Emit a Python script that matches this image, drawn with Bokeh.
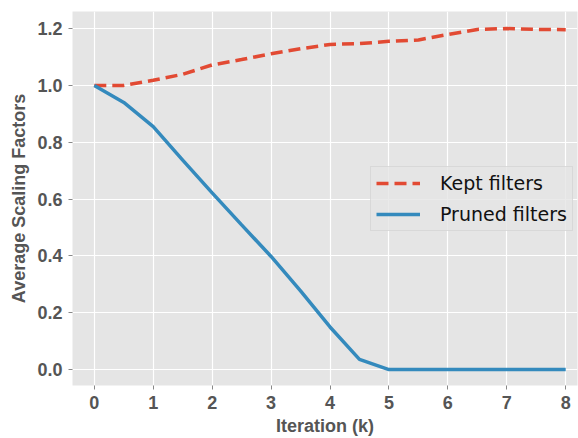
from bokeh.plotting import figure
from bokeh.models import Range1d, FixedTicker, PrintfTickFormatter
from bokeh.embed import file_html
from bokeh.resources import INLINE

iterations = [0, 0.5, 1, 1.5, 2, 2.5, 3, 3.5, 4, 4.5, 5, 5.5, 6, 6.5, 7, 7.5, 8]
kept = [1.0, 1.0, 1.018, 1.039, 1.072, 1.091, 1.111, 1.129, 1.144, 1.147, 1.155, 1.16, 1.179, 1.197, 1.2, 1.197, 1.196]
pruned = [1.0, 0.94, 0.855, 0.737, 0.622, 0.509, 0.398, 0.277, 0.15, 0.036, 0.0, 0.0, 0.0, 0.0, 0.0, 0.0, 0.0]
x_ticks = [0, 1, 2, 3, 4, 5, 6, 7, 8]
y_ticks = [0.0, 0.2, 0.4, 0.6, 0.8, 1.0, 1.2]

p = figure(width=578, height=438, output_backend="svg", toolbar_location=None,
           x_range=Range1d(-0.37, 8.2), y_range=Range1d(-0.056, 1.26),
           min_border_left=72, min_border_right=1, min_border_top=11, min_border_bottom=52)
p.background_fill_color = "#E5E5E5"
p.border_fill_color = "white"
p.outline_line_color = None

p.line(iterations, kept, line_color="#E24A33", line_width=3.5, line_dash="12 6", legend_label="Kept filters")
p.line(iterations, pruned, line_color="#348ABD", line_width=3.5, legend_label="Pruned filters")

for ax in (p.xaxis, p.yaxis):
    ax.axis_line_color = None
    ax.major_tick_line_color = "#888888"
    ax.major_tick_line_width = 1
    ax.major_tick_in = 0
    ax.major_tick_out = 4
    ax.minor_tick_line_color = None
    ax.major_label_text_font = "Liberation Sans"
    ax.major_label_text_font_style = "bold"
    ax.major_label_text_font_size = "18px"
    ax.major_label_text_color = "#555555"
    ax.axis_label_text_font = "Liberation Sans"
    ax.axis_label_text_font_style = "bold"
    ax.axis_label_text_font_size = "18px"
    ax.axis_label_text_color = "#555555"

p.xaxis.ticker = FixedTicker(ticks=x_ticks)
p.yaxis.ticker = FixedTicker(ticks=y_ticks)
p.yaxis.formatter = PrintfTickFormatter(format="%.1f")
p.xaxis.axis_label = "Iteration (k)"
p.yaxis.axis_label = "Average Scaling Factors"
p.xaxis.major_label_standoff = 6
p.yaxis.major_label_standoff = 6
p.xaxis.axis_label_standoff = 4
p.yaxis.axis_label_standoff = 5

p.grid.grid_line_color = "white"
p.grid.grid_line_width = 1.2

lg = p.legend[0]
lg.location = (298, 154)
lg.background_fill_color = "#E5E5E5"
lg.background_fill_alpha = 0.8
lg.border_line_color = "#CCCCCC"
lg.label_text_font = "DejaVu Sans"
lg.label_text_font_size = "19px"
lg.label_text_color = "#111111"
lg.glyph_width = 44
lg.glyph_height = 20
lg.label_height = 20
lg.label_standoff = 20
lg.spacing = 9
lg.padding = 5
lg.margin = 0

open("out.html", "w").write(file_html(p, INLINE))
